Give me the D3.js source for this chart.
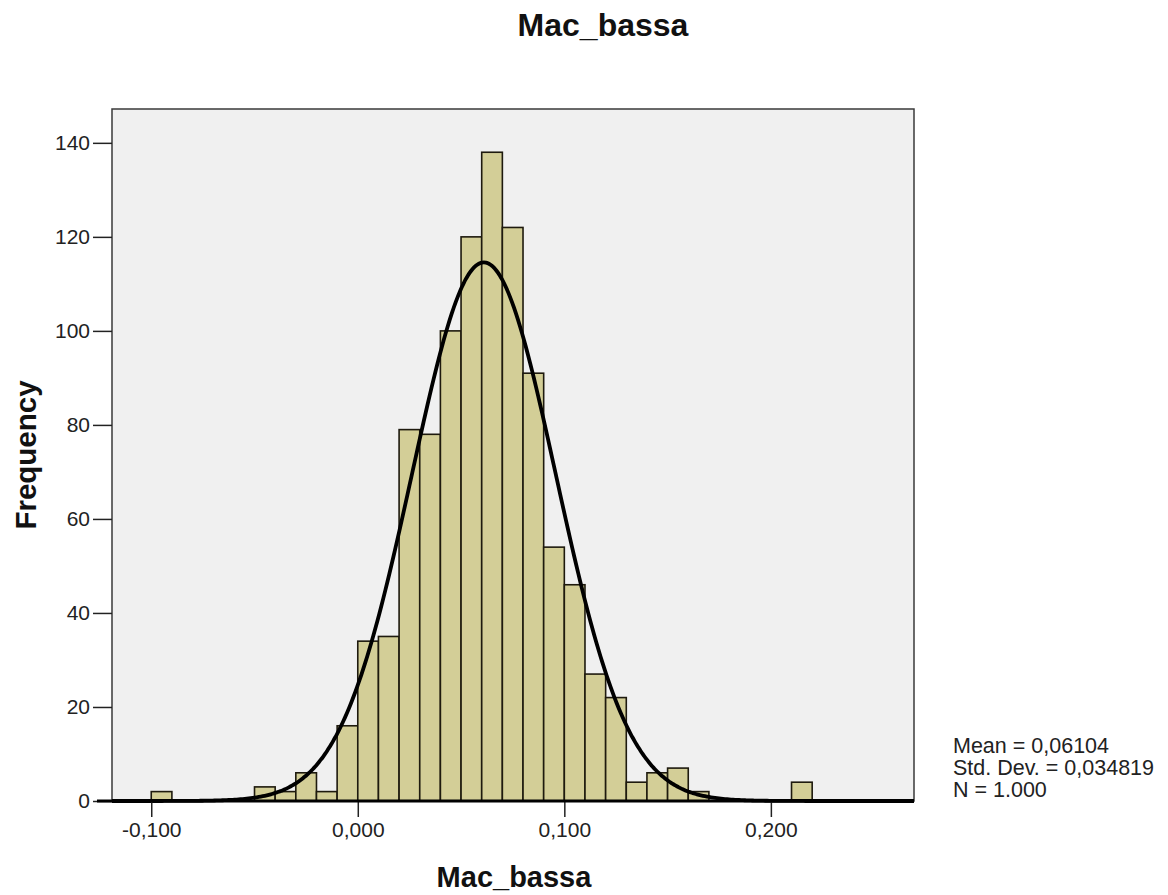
<!DOCTYPE html>
<html>
<head>
<meta charset="utf-8">
<script src="https://cdn.jsdelivr.net/npm/d3@7"></script>
<style>
  html, body { margin: 0; padding: 0; background: #ffffff; }
  svg { display: block; font-family: "Liberation Sans", Arial, sans-serif; }
</style>
</head>
<body>
<svg id="chart" width="1168" height="895"></svg>
<script>
// Histogram of Mac_bassa (bin width 0,010) with fitted normal curve
const binStarts = [-0.10, -0.05, -0.04, -0.03, -0.02, -0.01, 0.00, 0.01, 0.02, 0.03,
                   0.04, 0.05, 0.06, 0.07, 0.08, 0.09, 0.10, 0.11, 0.12, 0.13,
                   0.14, 0.15, 0.16, 0.21];
const counts    = [2, 3, 2, 6, 2, 16, 34, 35, 79, 78,
                   100, 120, 138, 122, 91, 54, 46, 27, 22, 4,
                   6, 7, 2, 4];
const binWidth = 0.01;
const stats = { mean: 0.06104, sd: 0.034819, n: 1000 };
const xTicks = [-0.1, 0.0, 0.1, 0.2];
const yTicks = [0, 20, 40, 60, 80, 100, 120, 140];
const statLines = ["Mean = 0,06104", "Std. Dev. = 0,034819", "N = 1.000"];

const svg = d3.select("#chart");
const plotLeft = 112, plotRight = 914, plotTop = 109, plotBottom = 801;

const x = d3.scaleLinear().domain([-0.119, 0.2693]).range([plotLeft, plotRight]);
const y = d3.scaleLinear().domain([0, 147.2]).range([plotBottom, plotTop]);

// Plot panel
svg.append("rect")
  .attr("x", plotLeft).attr("y", plotTop)
  .attr("width", plotRight - plotLeft).attr("height", plotBottom - plotTop)
  .attr("fill", "#f0f0f0").attr("stroke", "#3a3a3a").attr("stroke-width", 1.5);

// Bars
const bins = binStarts.map((s, i) => ({ x0: s, x1: s + binWidth, n: counts[i] }));
svg.append("g").selectAll("rect").data(bins).join("rect")
  .attr("x", d => x(d.x0))
  .attr("y", d => y(d.n))
  .attr("width", d => x(d.x1) - x(d.x0))
  .attr("height", d => y(0) - y(d.n))
  .attr("fill", "#d3ce97")
  .attr("stroke", "#1e1a0e")
  .attr("stroke-width", 1.6);

// Normal curve scaled to counts
const norm = v => stats.n * binWidth / (stats.sd * Math.sqrt(2 * Math.PI)) *
  Math.exp(-0.5 * Math.pow((v - stats.mean) / stats.sd, 2));
const curvePts = d3.range(400).map(i => {
  const v = x.domain()[0] + (x.domain()[1] - x.domain()[0]) * i / 399;
  return [v, norm(v)];
});
svg.append("path")
  .datum(curvePts)
  .attr("fill", "none")
  .attr("stroke", "#000")
  .attr("stroke-width", 3.8)
  .attr("d", d3.line().x(d => x(d[0])).y(d => y(d[1])).curve(d3.curveBasis));

// Y axis
const yAxis = svg.append("g").attr("transform", `translate(${plotLeft},0)`)
  .call(d3.axisLeft(y).tickValues(yTicks).tickSize(19).tickPadding(3).tickFormat(d3.format("d")));
yAxis.select(".domain").remove();
yAxis.selectAll("line").attr("stroke", "#222").attr("stroke-width", 1.5);
yAxis.selectAll("text").attr("font-size", 21).attr("fill", "#222")
  .attr("font-family", "'Liberation Sans', Arial, sans-serif");

// X axis
const fmtX = v => d3.format(".3f")(v).replace(".", ",").replace("−", "-");
const xAxis = svg.append("g").attr("transform", `translate(0,${plotBottom})`)
  .call(d3.axisBottom(x).tickValues(xTicks).tickSize(16).tickPadding(5).tickFormat(fmtX));
xAxis.select(".domain").remove();
xAxis.selectAll("line").attr("stroke", "#222").attr("stroke-width", 1.5);
xAxis.selectAll("text").attr("font-size", 21).attr("fill", "#222")
  .attr("font-family", "'Liberation Sans', Arial, sans-serif");

// Heavy baseline
svg.append("line")
  .attr("x1", 97).attr("x2", plotRight)
  .attr("y1", y(0)).attr("y2", y(0))
  .attr("stroke", "#000").attr("stroke-width", 3);

// Titles
svg.append("text").attr("x", 603).attr("y", 36).attr("text-anchor", "middle")
  .attr("font-size", 32).attr("font-weight", "bold").attr("fill", "#111").text("Mac_bassa");
svg.append("text").attr("x", 514).attr("y", 887).attr("text-anchor", "middle")
  .attr("font-size", 29).attr("font-weight", "bold").attr("fill", "#111").text("Mac_bassa");
svg.append("text").attr("transform", `translate(36,455) rotate(-90)`)
  .attr("text-anchor", "middle")
  .attr("font-size", 29.5).attr("font-weight", "bold").attr("fill", "#111").text("Frequency");

// Summary statistics
svg.append("g").selectAll("text").data(statLines).join("text")
  .attr("x", 953).attr("y", (d, i) => 753 + i * 22)
  .attr("font-size", 21.5).attr("fill", "#222").text(d => d);
</script>
</body>
</html>
